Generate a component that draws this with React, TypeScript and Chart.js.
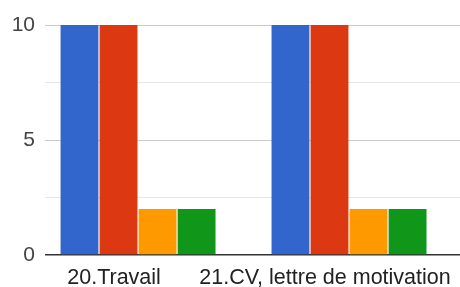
import React, { useEffect, useRef } from "react";
import { Chart, registerables } from "chart.js";

Chart.register(...registerables);

const categories = ["20.Travail", "21.CV, lettre de motivation"];
const seriesA = [10, 10];
const seriesB = [10, 10];
const seriesC = [2, 2];
const seriesD = [2, 2];
const yTickLabels = [0, 5, 10];
const colors = ["#3366cc", "#dc3912", "#ff9900", "#109618"];

const toPoints = (vals: number[]) => vals.map((v, i) => ({ x: i, y: v }));

export default function App() {
  const ref = useRef<HTMLCanvasElement | null>(null);
  useEffect(() => {
    if (!ref.current) return;
    const series = [seriesA, seriesB, seriesC, seriesD];
    const chart = new Chart(ref.current, {
      type: "bar",
      data: {
        datasets: series.map((s, i) => ({
          label: "S" + (i + 1),
          data: toPoints(s),
          backgroundColor: colors[i],
          borderWidth: 0,
          categoryPercentage: 0.74,
          barPercentage: 0.97,
        })),
      },
      options: {
        responsive: false,
        animation: false,
        layout: { padding: { top: 25, right: 0, left: 0, bottom: 0 } },
        plugins: { legend: { display: false }, tooltip: { enabled: false } },
        scales: {
          x: {
            type: "linear",
            offset: false,
            min: -0.441,
            max: 1.526,
            grid: { display: false, offset: false },
            border: { display: false },
            afterBuildTicks: (scale: any) => {
              scale.ticks = categories.map((_, i) => ({ value: i }));
            },
            afterFit: (scale: any) => {
              scale.height = 32;
              scale.paddingLeft = 0;
              scale.paddingRight = 0;
            },
            ticks: {
              autoSkip: false,
              maxRotation: 0,
              padding: 2,
              labelOffset: -24,
              color: "#222",
              font: { family: "'Liberation Sans', Arial, sans-serif", size: 21.5 },
              callback: (v: any) => categories[Math.round(Number(v))] ?? "",
            },
          },
          y: {
            min: 0,
            max: 10,
            border: { display: false },
            afterFit: (scale: any) => {
              scale.width = 45;
            },
            grid: {
              drawTicks: false,
              color: (ctx: any) => {
                const v = ctx.tick?.value;
                if (v === 0) return "#333";
                return yTickLabels.includes(v) ? "#cccccc" : "#e6e6e6";
              },
              lineWidth: (ctx: any) => (ctx.tick?.value === 0 ? 1.5 : 1),
            },
            ticks: {
              stepSize: 2.5,
              padding: 10,
              color: "#444",
              font: { family: "'Liberation Sans', Arial, sans-serif", size: 21 },
              callback: (v: any) => (yTickLabels.includes(Number(v)) ? String(v) : ""),
            },
          },
        },
      },
    });
    return () => chart.destroy();
  }, []);
  return (
    <div style={{ position: "fixed", left: 0, top: 0, width: 460, height: 287, background: "#fff" }}>
      <canvas ref={ref} width={460} height={287} style={{ display: "block" }} />
    </div>
  );
}
